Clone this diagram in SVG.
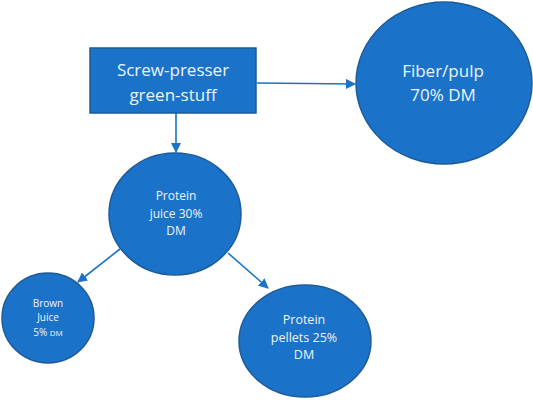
<svg xmlns="http://www.w3.org/2000/svg" width="533" height="405" viewBox="0 0 533 405">
<style>
.n{fill:#1a73c9;stroke:#1d5b99;stroke-width:1.5}
.t{fill:#eef4fb;font-family:"Open Sans","Noto Sans",sans-serif;text-anchor:middle}
.c{stroke:#1a73c9;stroke-width:1.6;fill:none;marker-end:url(#ah)}
</style>
<defs>
<marker id="ah" markerWidth="10" markerHeight="10" refX="9" refY="5" orient="auto" markerUnits="userSpaceOnUse">
<path d="M0,0 L10,5 L0,10 Z" fill="#1a73c9"/>
</marker>
</defs>
<rect width="533" height="405" fill="#fff"/>
<g id="connectors">
<line class="c" x1="257" y1="83" x2="355" y2="84"/>
<line class="c" x1="176" y1="113" x2="176" y2="152"/>
<line class="c" x1="120" y1="249" x2="78" y2="282"/>
<line class="c" x1="228" y1="253" x2="268" y2="288"/>
</g>
<g id="screw-presser">
<rect class="n" x="90" y="48" width="166" height="65"/>
<text class="t" x="173" y="76" font-size="17">Screw-presser</text>
<text class="t" x="173" y="101" font-size="17">green-stuff</text>
</g>
<g id="fiber">
<ellipse class="n" cx="444" cy="83" rx="88" ry="81"/>
<text class="t" x="443" y="77" font-size="17">Fiber/pulp</text>
<text class="t" x="443" y="101" font-size="17">70% DM</text>
</g>
<g id="protein-juice">
<ellipse class="n" cx="175" cy="214" rx="66" ry="61"/>
<text class="t" x="176" y="200" font-size="12">Protein</text>
<text class="t" x="176" y="218" font-size="12">juice 30%</text>
<text class="t" x="176" y="235" font-size="12">DM</text>
</g>
<g id="brown-juice">
<ellipse class="n" cx="48" cy="318" rx="46" ry="45"/>
<text class="t" x="48" y="307" font-size="10">Brown</text>
<text class="t" x="48" y="321" font-size="10">Juice</text>
<text class="t" x="48" y="336" font-size="10">5% <tspan font-size="8">DM</tspan></text>
</g>
<g id="protein-pellets">
<ellipse class="n" cx="305" cy="341" rx="66" ry="56"/>
<text class="t" x="304" y="324" font-size="12.5">Protein</text>
<text class="t" x="304" y="342" font-size="12.5">pellets 25%</text>
<text class="t" x="304" y="359" font-size="12.5">DM</text>
</g>
</svg>
